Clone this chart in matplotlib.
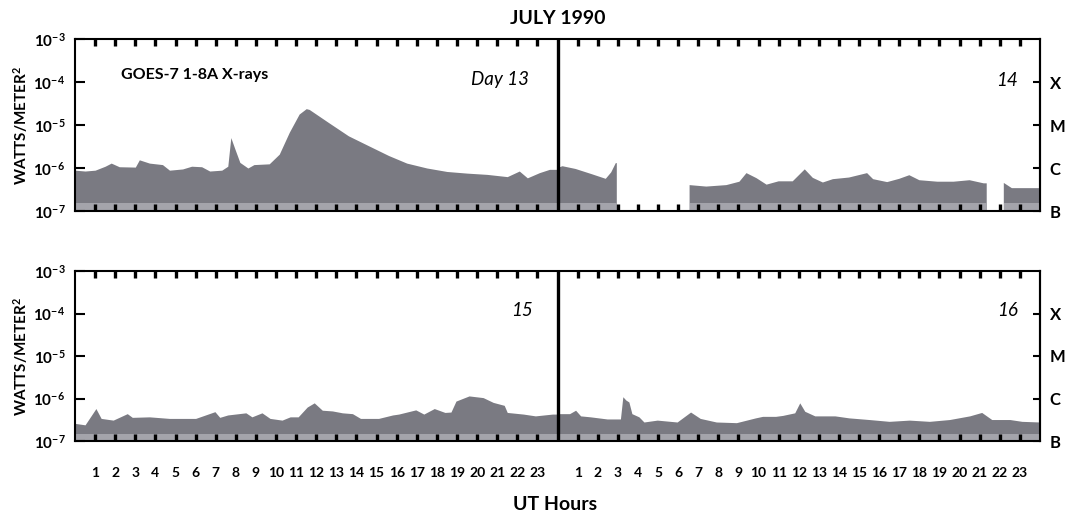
import numpy as np
import matplotlib.pyplot as plt
from matplotlib.ticker import NullLocator

# ==== Data : GOES-7 1-8 A flux (W/m^2) ====
# hours since 00 UT of each day; NaN = data gap

h13 = [0.0, 0.5, 1.0, 1.5, 1.8, 2.2, 3.0, 3.2, 3.7, 4.35, 4.7, 5.35, 5.8, 6.3, 6.7,
       7.3, 7.6, 7.75, 7.95, 8.2, 8.6, 8.9, 9.66, 10.16, 10.66, 11.15, 11.5, 11.65,
       12.6, 13.6, 14.6, 15.6, 16.5, 17.5, 18.5, 19.5, 20.5, 21.5, 22.1, 22.5, 23.1,
       23.6, 24.0]
f13 = [8.9e-7, 8.5e-7, 8.9e-7, 1.1e-6, 1.3e-6, 1.07e-6, 1.05e-6, 1.55e-6, 1.3e-6, 1.2e-6,
       8.9e-7, 9.5e-7, 1.1e-6, 1.07e-6, 8.5e-7, 8.9e-7, 1.1e-6, 5.1e-6, 2.8e-6, 1.35e-6,
       1.0e-6, 1.2e-6, 1.25e-6, 2.1e-6, 6.8e-6, 1.8e-5, 2.4e-5, 2.3e-5, 1.15e-5, 5.6e-6,
       3.3e-6, 1.95e-6, 1.3e-6, 1.0e-6, 8.3e-7, 7.6e-7, 7.1e-7, 6.3e-7, 8.5e-7, 5.9e-7,
       7.8e-7, 9.3e-7, 9.3e-7]

h14 = [0.0, 0.25, 0.9, 1.7, 2.4, 2.67, 2.9, 2.95, 3.0, 6.5, 6.57, 7.4, 8.4, 9.05, 9.4, 9.9,
       10.4, 11.0, 11.7, 12.3, 12.7, 13.2, 13.7, 14.5, 15.4, 15.7, 16.4, 17.0, 17.5, 18.0,
       18.9, 19.7, 20.5, 21.2, 21.35, 21.4, 22.15, 22.2, 22.6, 24.0]
f14 = [1.0e-6, 1.1e-6, 9.5e-7, 7.2e-7, 5.6e-7, 7.9e-7, 1.3e-6, 1.3e-6, np.nan, np.nan,
       4.0e-7, 3.7e-7, 4.0e-7, 4.8e-7, 7.6e-7, 5.8e-7, 4.1e-7, 4.9e-7, 4.9e-7, 9.3e-7,
       5.9e-7, 4.6e-7, 5.5e-7, 6.0e-7, 7.6e-7, 5.5e-7, 4.7e-7, 5.6e-7, 6.8e-7, 5.2e-7,
       4.8e-7, 4.8e-7, 5.2e-7, 4.4e-7, 4.4e-7, np.nan, np.nan, 4.5e-7, 3.4e-7, 3.4e-7]

h15 = [0.0, 0.5, 1.04, 1.3, 1.9, 2.6, 2.85, 3.7, 4.7, 6.0, 6.96, 7.2, 7.6, 8.5, 8.8, 9.3,
       9.7, 10.3, 10.7, 11.1, 11.55, 11.9, 12.3, 12.8, 13.3, 13.8, 14.2, 15.1, 15.8, 16.1,
       16.95, 17.35, 17.87, 18.4, 18.7, 18.95, 19.6, 20.3, 20.8, 21.35, 21.5, 22.3, 22.9,
       23.75, 24.0]
f15 = [2.6e-7, 2.4e-7, 5.8e-7, 3.4e-7, 3.1e-7, 4.4e-7, 3.6e-7, 3.7e-7, 3.4e-7, 3.4e-7,
       4.9e-7, 3.6e-7, 4.1e-7, 4.6e-7, 3.7e-7, 4.6e-7, 3.4e-7, 3.1e-7, 3.7e-7, 3.7e-7,
       6.3e-7, 7.9e-7, 5.3e-7, 5.1e-7, 4.6e-7, 4.4e-7, 3.4e-7, 3.4e-7, 4.1e-7, 4.3e-7,
       5.4e-7, 4.3e-7, 5.8e-7, 4.7e-7, 4.8e-7, 8.7e-7, 1.15e-6, 1.05e-6, 8.1e-7, 6.9e-7,
       4.7e-7, 4.3e-7, 3.9e-7, 4.3e-7, 4.3e-7]

h16 = [0.0, 0.6, 0.9, 1.15, 1.64, 2.47, 3.13, 3.25, 3.4, 3.55, 3.7, 4.05, 4.3, 4.96, 5.95,
       6.62, 7.1, 7.9, 8.9, 9.85, 10.2, 10.85, 11.2, 11.8, 12.05, 12.3, 12.8, 13.8, 14.5,
       15.5, 16.5, 17.5, 18.5, 19.5, 20.5, 21.1, 21.6, 22.5, 23.1, 24.0]
f16 = [4.4e-7, 4.4e-7, 5.3e-7, 3.9e-7, 3.7e-7, 3.3e-7, 3.3e-7, 1.1e-6, 9.2e-7, 8.3e-7,
       4.4e-7, 3.7e-7, 2.8e-7, 3.1e-7, 2.8e-7, 4.8e-7, 3.4e-7, 2.8e-7, 2.7e-7, 3.5e-7,
       3.8e-7, 3.8e-7, 4.0e-7, 4.6e-7, 7.9e-7, 5.0e-7, 3.9e-7, 3.9e-7, 3.5e-7, 3.2e-7,
       2.9e-7, 3.1e-7, 2.9e-7, 3.2e-7, 3.9e-7, 4.7e-7, 3.2e-7, 3.2e-7, 2.9e-7, 2.8e-7]

y_ticks = [1e-7, 1e-6, 1e-5, 1e-4, 1e-3]
y_labels = ['$10^{-7}$', '$10^{-6}$', '$10^{-5}$', '$10^{-4}$', '$10^{-3}$']
cls_ticks = [1e-4, 1e-5, 1e-6, 1e-7]
cls_labels = ['X', 'M', 'C', 'B']
hour_ticks = [h for h in range(1, 48) if h != 24]
hour_labels = [str(h % 24) for h in hour_ticks]

# ==== Style ====
plt.rcParams['font.family'] = ['Lato', 'DejaVu Sans']
plt.rcParams['font.weight'] = 'bold'
plt.rcParams['mathtext.fontset'] = 'custom'
plt.rcParams['mathtext.rm'] = 'Lato:bold'
plt.rcParams['mathtext.bf'] = 'Lato:bold'
plt.rcParams['mathtext.it'] = 'Lato:bold:italic'
plt.rcParams['axes.linewidth'] = 1.5

FILL = '#7a7a82'
LIGHT = '#a4a4ab'


def panel(ax, days, show_hours):
    for i, (h, f) in enumerate(days):
        x = np.array(h) + 24 * i
        f = np.array(f)
        ax.fill_between(x, 1e-8, f, color=FILL, lw=0)
        ax.fill_between(x, 1e-8, np.minimum(f, 1.5e-7), color=LIGHT, lw=0)
    ax.set_yscale('log')
    ax.set_ylim(1e-7, 1e-3)
    ax.set_xlim(0, 48)
    ax.axvline(24, color='black', lw=2.4)

    ax.set_xticks(hour_ticks, labels=hour_labels)
    ax.tick_params(axis='x', direction='in', top=True, bottom=True, length=5,
                   width=2.4, labelsize=10, pad=19, labelbottom=show_hours)
    ax.set_yticks(y_ticks, labels=y_labels)
    ax.yaxis.set_minor_locator(NullLocator())
    ax.tick_params(axis='y', direction='in', length=7.5, width=1.5, labelsize=11, pad=7)

    sec = ax.secondary_yaxis('right')
    sec.set_yticks(cls_ticks, labels=cls_labels)
    sec.yaxis.set_minor_locator(NullLocator())
    sec.tick_params(direction='in', length=5, width=1.5, labelsize=12, pad=7)
    sec.spines['right'].set_linewidth(1.5)


fig = plt.figure(figsize=(10.67, 5.16), dpi=100)
ax1 = fig.add_axes([75 / 1067, 1 - 211 / 516, 965 / 1067, 172 / 516])
ax2 = fig.add_axes([75 / 1067, 1 - 441 / 516, 965 / 1067, 170 / 516])

panel(ax1, [(h13, f13), (h14, f14)], False)
panel(ax2, [(h15, f15), (h16, f16)], True)

ax1.text(2.3, 1.45e-4, 'GOES-7 1-8A X-rays', fontsize=11.5, va='center', ha='left')
ax1.text(22.6, 1.15e-4, 'Day 13', fontsize=13.5, style='italic', fontweight='normal',
         va='center', ha='right')
ax1.text(46.9, 1.1e-4, '14', fontsize=13.5, style='italic', fontweight='normal',
         va='center', ha='right')
ax2.text(22.75, 1.15e-4, '15', fontsize=13.5, style='italic', fontweight='normal',
         va='center', ha='right')
ax2.text(46.9, 1.15e-4, '16', fontsize=13.5, style='italic', fontweight='normal',
         va='center', ha='right')

fig.text(558 / 1067, 1 - 19 / 516, 'JULY 1990', fontsize=14, ha='center', va='center')
fig.text(555 / 1067, 1 - 505 / 516, 'UT Hours', fontsize=14, ha='center', va='center')
for yc in (125, 356):
    fig.text(21 / 1067, 1 - yc / 516, 'WATTS/METER$^2$', fontsize=11, rotation=90,
             ha='center', va='center')

fig.savefig('out.png', dpi=100)
